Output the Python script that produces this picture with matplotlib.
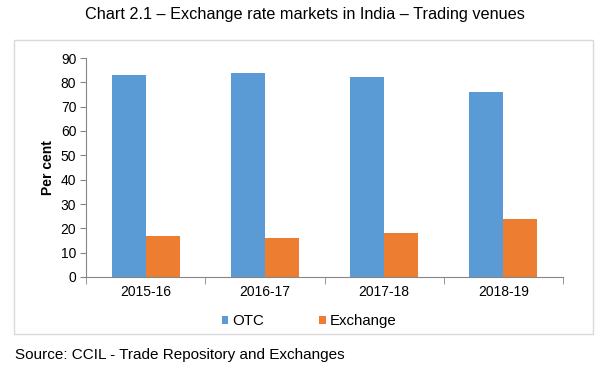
import matplotlib
matplotlib.use("Agg")
import matplotlib.pyplot as plt
from matplotlib.patches import Rectangle
import numpy as np

plt.rcParams["font.family"] = ["Liberation Sans", "DejaVu Sans"]

years = ["2015-16", "2016-17", "2017-18", "2018-19"]
otc = [83, 84, 82, 76]
exchange = [17, 16, 18, 24]

BLUE = "#5b9bd5"
ORANGE = "#ed7d31"
AXIS = "#868686"

fig = plt.figure(figsize=(6.07, 3.71), dpi=100)
fig.patch.set_facecolor("white")

# outer chart frame
fig.patches.append(Rectangle((14 / 607, 1 - 334 / 371), 579 / 607, 294 / 371,
                             transform=fig.transFigure, fill=False,
                             edgecolor="#d9d9d9", lw=1.0))

ax = fig.add_axes([86 / 607, 1 - 277 / 371, 477 / 607, 219 / 371])
x = np.arange(len(years))
w = 0.285
ax.bar(x - w / 2, otc, w, color=BLUE, label="OTC")
ax.bar(x + w / 2, exchange, w, color=ORANGE, label="Exchange")

ax.set_xlim(-0.5, len(years) - 0.5)
ax.set_ylim(0, 90)
ax.set_yticks(range(0, 91, 10))
ax.set_xticks(x)
ax.set_xticklabels(years)
ax.set_xticks(np.arange(-0.5, len(years)), minor=True)
ax.tick_params(axis="x", which="major", length=0, pad=6, labelsize=10)
ax.tick_params(axis="x", which="minor", length=5, color=AXIS, direction="out")
ax.tick_params(axis="y", length=4, color=AXIS, labelsize=10, pad=3)
for s in ["top", "right"]:
    ax.spines[s].set_visible(False)
for s in ["left", "bottom"]:
    ax.spines[s].set_color(AXIS)
ax.set_ylabel("Per cent", fontsize=10, fontweight="bold", labelpad=4)

fig.legend(loc="center", bbox_to_anchor=(309 / 607, 1 - 321 / 371), ncol=2,
           frameon=False, fontsize=10.8, handlelength=0.42, handleheight=0.42,
           handletextpad=0.25, columnspacing=3.7)

fig.text(305 / 607, 1 - 15 / 371,
         "Chart 2.1 \u2013 Exchange rate markets in India \u2013 Trading venues",
         ha="center", va="center", fontsize=11.7)
fig.text(15 / 607, 1 - 355 / 371, "Source: CCIL - Trade Repository and Exchanges",
         ha="left", va="center", fontsize=11)

fig.savefig("out.png", dpi=100)
